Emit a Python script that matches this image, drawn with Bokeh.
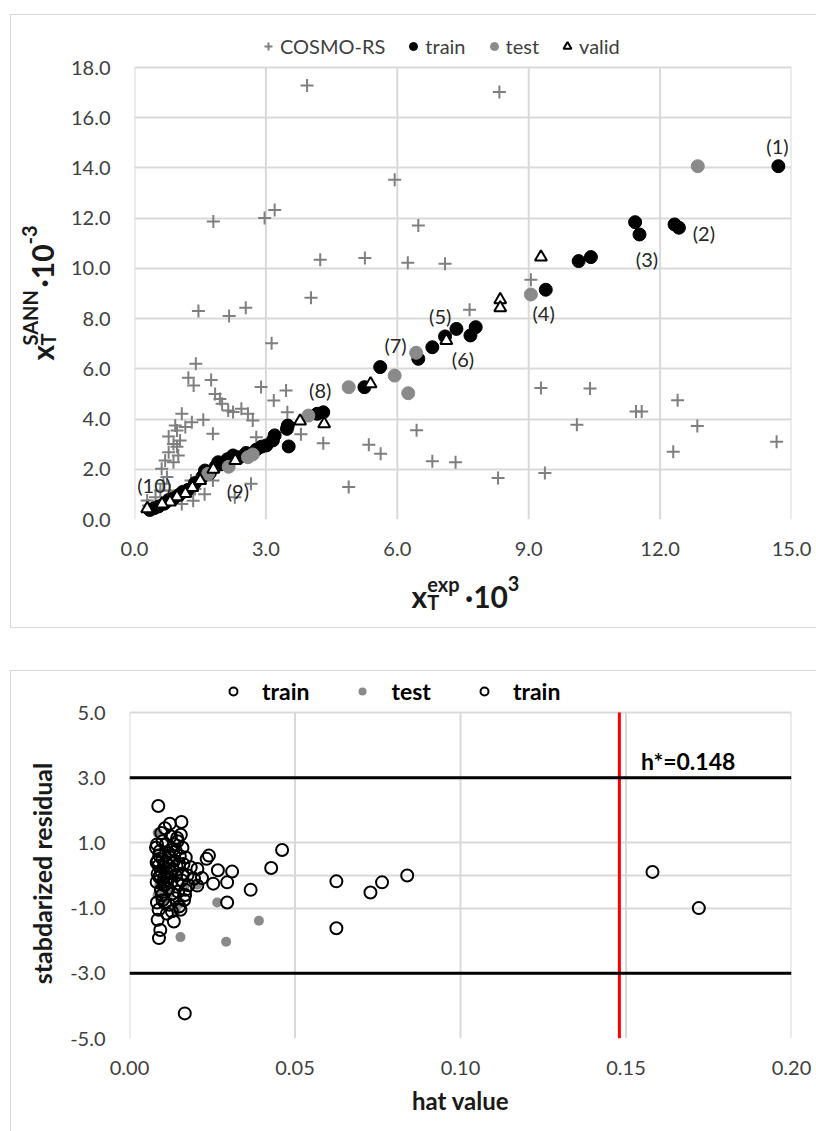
import math
from bokeh.plotting import figure
from bokeh.models import (Range1d, FixedTicker, NumeralTickFormatter, Label, Span, Spacer,
                          Legend, LegendItem)
from bokeh.layouts import column, row
from bokeh.core.properties import value
from bokeh.embed import file_html
from bokeh.resources import INLINE

# ---------------- data: top chart (x_T^exp*10^3 vs x_T^SANN*10^-3) ----------------
cosmo_x = [3.94, 8.33, 5.94, 1.80, 2.97, 3.20, 6.48, 4.24, 5.26, 6.24, 7.09, 9.05, 4.03, 1.46, 2.16, 2.54, 7.65, 3.13,
           1.40, 1.23, 1.35, 1.75, 1.84, 1.95, 2.00, 2.89, 3.46, 3.18, 3.49, 3.80, 4.31, 4.89,
           1.08, 1.31, 1.57, 0.93, 1.16, 0.78, 0.97, 1.04, 0.89, 0.78, 0.70, 0.62, 0.89, 0.97, 0.74, 0.66, 0.59,
           0.48, 0.32, 0.81, 1.00, 0.81, 1.08, 1.34, 1.60, 1.38, 1.79, 1.29, 1.00, 1.79, 2.14, 2.25, 2.44, 2.59,
           2.70, 2.78, 2.66, 2.29, 0.29,
           9.28, 10.40, 11.45, 11.58, 12.40, 12.30, 12.85, 14.66, 10.10, 9.37, 8.30, 7.33, 6.80, 6.44, 5.35, 5.62]
cosmo_y = [17.28, 17.02, 13.53, 11.87, 12.01, 12.33, 11.71, 10.34, 10.41, 10.22, 10.18, 9.55, 8.83, 8.30, 8.10, 8.43, 8.35, 7.02,
           6.20, 5.64, 5.34, 5.56, 5.00, 4.80, 4.61, 5.28, 5.14, 4.74, 4.27, 3.39, 3.04, 1.29,
           4.21, 3.87, 3.97, 3.74, 3.68, 3.31, 3.54, 3.15, 3.01, 2.68, 2.35, 2.02, 2.28, 2.90, 1.69, 1.42, 1.15,
           0.89, 0.56, 1.15, 0.96, 0.75, 0.62, 0.75, 1.01, 1.21, 1.55, 1.55, 2.55, 3.41, 4.34, 4.28, 4.41, 4.21,
           3.94, 3.28, 1.42, 0.89, 0.76,
           5.24, 5.22, 4.30, 4.30, 4.75, 2.70, 3.72, 3.10, 3.77, 1.85, 1.65, 2.28, 2.32, 3.55, 2.98, 2.62]

train_x = [14.70, 11.43, 11.53, 12.33, 12.43, 10.14, 10.42, 9.39, 7.79, 7.67, 7.35, 7.09, 6.80, 6.48, 5.61, 5.25,
           4.31, 4.17, 3.50, 3.48, 3.52, 3.20, 3.16, 3.01, 2.90, 2.78, 2.55, 2.40, 2.25, 2.12, 2.00, 1.91, 1.85,
           1.72, 1.61, 1.55, 1.38, 1.22, 1.10, 1.02, 0.90, 0.78, 0.68, 0.55, 0.45, 0.35]
train_y = [14.07, 11.84, 11.35, 11.75, 11.62, 10.29, 10.45, 9.15, 7.66, 7.33, 7.59, 7.29, 6.86, 6.40, 6.07, 5.27,
           4.27, 4.21, 3.74, 3.61, 2.91, 3.35, 3.15, 2.95, 2.90, 2.78, 2.65, 2.48, 2.55, 2.40, 2.20, 2.28, 2.10,
           1.85, 1.95, 1.70, 1.45, 1.18, 1.10, 0.98, 0.85, 0.78, 0.63, 0.52, 0.45, 0.38]

test_x = [12.86, 9.05, 6.43, 5.94, 6.25, 4.89, 3.97, 2.70, 2.59, 2.15, 1.68]
test_y = [14.07, 8.96, 6.64, 5.73, 5.03, 5.27, 4.14, 2.59, 2.48, 2.10, 1.82]

valid_x = [9.28, 8.35, 8.35, 7.12, 5.39, 3.78, 4.33, 2.30, 1.80, 1.50, 1.32, 1.16, 0.97, 0.81, 0.63, 0.29]
valid_y = [10.45, 8.75, 8.43, 7.13, 5.40, 3.92, 3.81, 2.35, 2.00, 1.55, 1.27, 1.03, 0.90, 0.70, 0.62, 0.43]

point_labels = ["(1)", "(2)", "(3)", "(4)", "(5)", "(6)", "(7)", "(8)", "(9)", "(10)"]
point_label_x = [14.68, 13.00, 11.70, 9.34, 6.98, 7.50, 5.96, 4.24, 2.36, 0.45]
point_label_y = [14.89, 11.39, 10.39, 8.24, 8.12, 6.41, 6.93, 5.14, 1.15, 1.39]

top_series = ["COSMO-RS", "train", "test", "valid"]
top_xticks = [0, 3, 6, 9, 12, 15]
top_yticks = [0, 2, 4, 6, 8, 10, 12, 14, 16, 18]

# ---------------- data: bottom chart (Williams plot) ----------------
train_h = [0.0087, 0.0122, 0.0157, 0.0144, 0.0083, 0.0461, 0.0240, 0.0233, 0.0428, 0.0205, 0.0267, 0.0310,
           0.0625, 0.0763, 0.0728, 0.0839, 0.0625, 0.0295, 0.0253, 0.0366, 0.0295, 0.0219, 0.0205, 0.0169,
           0.0154, 0.0134, 0.0085, 0.0093, 0.0089, 0.0167, 0.0083, 0.0100, 0.0113,
           0.0080, 0.0090, 0.0100, 0.0110, 0.0120, 0.0130, 0.0095, 0.0085, 0.0105, 0.0115, 0.0125, 0.0135,
           0.0140, 0.0150, 0.0160, 0.0145, 0.0130, 0.0095, 0.0082, 0.0088, 0.0110, 0.0125, 0.0155, 0.0160,
           0.0170, 0.0175, 0.0165, 0.0150, 0.0120, 0.0105, 0.0082, 0.0090, 0.0185, 0.0195, 0.0178, 0.0140,
           0.0100, 0.0118, 0.0135,
           0.0085, 0.0092, 0.0098, 0.0103, 0.0108, 0.0112, 0.0117, 0.0122, 0.0127, 0.0132, 0.0137, 0.0142,
           0.0147, 0.0152, 0.0158, 0.0163, 0.0168, 0.0088, 0.0096, 0.0107, 0.0128, 0.0145, 0.0118, 0.0093,
           0.0102]
train_r = [2.13, 1.59, 1.64, 1.15, 0.95, 0.78, 0.61, 0.51, 0.23, 0.20, 0.16, 0.12,
           -0.18, -0.21, -0.52, 0.00, -1.62, -0.21, -0.25, -0.44, -0.83, -0.08, -0.31, -0.44,
           -1.05, -1.41, -1.36, -1.67, -1.92, -4.23, -0.83, -0.76, -1.17,
           0.85, 0.62, 0.50, 0.40, 0.30, 0.20, 0.15, 0.05, -0.05, -0.15, 0.10, 0.45,
           0.75, 0.35, 0.05, -0.25, -0.55, -0.45, -0.20, 0.30, 0.95, 1.20, 1.25, 0.85,
           0.55, 0.00, -0.75, -0.95, -0.90, -0.30, 0.40, -0.05, 0.25, -0.10, -0.30, 0.00,
           1.05, 0.70, 0.95,
           0.45, 0.75, -0.60, 0.25, -0.85, 0.10, -0.40, 0.55, -0.20, 0.80, -0.70, 0.30,
           -0.50, 0.60, -0.15, 0.35, -0.60, -1.05, 1.30, 1.45, -1.10, 1.05, -0.05, 0.00,
           -0.20]

test_h = [0.0085, 0.0265, 0.0391, 0.0154, 0.0292, 0.0205, 0.0090, 0.0100, 0.0155, 0.0165, 0.0095, 0.0120,
          0.0085, 0.0140, 0.0110, 0.0150]
test_r = [1.31, -0.83, -1.39, -1.89, -2.03, -0.28, -0.30, -0.80, -0.85, -0.35, 0.20, -0.55,
          -0.60, -1.05, 0.60, 0.10]

train2_h = [0.158, 0.172]
train2_r = [0.11, -1.00]

bottom_series = ["train", "test", "train"]
h_star = 0.148
res_limit = 3.0
bot_xticks = [0.0, 0.05, 0.10, 0.15, 0.20]
bot_yticks = [-5, -3, -1, 1, 3, 5]

# ---------------- styling ----------------
FONT = "Lato"
GRID = "#d9d9d9"
TICK = "#404040"
TITLE = "#1a1a1a"
GRAYPT = "#8a8a8a"
BL = "1px solid #d9d9d9"


def base_axes(p, xt, yt, xfmt, yfmt):
    p.xaxis.ticker = FixedTicker(ticks=xt)
    p.yaxis.ticker = FixedTicker(ticks=yt)
    p.xaxis.formatter = NumeralTickFormatter(format=xfmt)
    p.yaxis.formatter = NumeralTickFormatter(format=yfmt)
    for ax in (p.xaxis[0], p.yaxis[0]):
        ax.axis_line_color = None
        ax.major_tick_line_color = None
        ax.minor_tick_line_color = None
        ax.major_label_text_font = FONT
        ax.major_label_text_font_size = "20px"
        ax.major_label_text_color = TICK
    p.xaxis.major_label_standoff = 16
    p.yaxis.major_label_standoff = 18
    p.xgrid.visible = False
    p.ygrid.ticker = FixedTicker(ticks=yt)
    p.ygrid.grid_line_color = GRID
    p.ygrid.grid_line_width = 2
    # vertical grid lines only over the plot area (the frame also holds the legend above it)
    n = len(xt)
    p.segment(x0=xt, y0=[yt[0]] * n, x1=xt, y1=[yt[-1]] * n, line_color=GRID, line_width=2,
              level="underlay")
    p.outline_line_color = None
    p.background_fill_color = "white"
    p.border_fill_color = "white"


def strip(w, h, left=0, right=0, top=0, bottom=0):
    """Figure without axes; its frame spans (w-left-right) x (h-top-bottom) px, 1 data unit = 1 px."""
    f = figure(width=w, height=h, x_range=Range1d(0, w - left - right), y_range=Range1d(0, h - top - bottom),
               x_axis_type=None, y_axis_type=None, output_backend="svg", toolbar_location=None,
               min_border=0, min_border_left=left, min_border_right=right,
               min_border_top=top, min_border_bottom=bottom)
    f.grid.visible = False
    f.outline_line_color = None
    f.background_fill_color = "white"
    f.border_fill_color = "white"
    return f


def txt(f, conv, px, py, s, size, bold=True, angle=0.0, align="left", color=TITLE):
    """(px, py) = page position of the text's anchor (horizontal per align, vertical middle)."""
    x, y = conv(px, py)
    f.text(x=[x], y=[y], text=[s], angle=angle, text_font=value(FONT),
           text_font_size=value(f"{size}px"), text_font_style=value("bold" if bold else "normal"),
           text_color=color, text_align=value(align), text_baseline=value("middle"))


A = math.pi / 2

# ================= top chart =================
# page: box border x=10, y=14..628; y-title strip x 11..67; main fig x 67..816, y 15..565
# (its frame x 129..791, y 15..519; the 0..18 plot area is y 67..519, the legend sits above it);
# x-title strip y 565..627
TOP_PX_PER_UNIT = 452 / 18
p1 = figure(width=749, height=550, x_range=Range1d(0, 15),
            y_range=Range1d(0, 18 + (67 - 15) / TOP_PX_PER_UNIT),
            output_backend="svg", toolbar_location=None,
            min_border_left=62, min_border_right=25, min_border_top=0, min_border_bottom=46)
base_axes(p1, top_xticks, top_yticks, "0.0", "0.0")

rc = p1.scatter(cosmo_x, cosmo_y, marker="cross", size=13, line_color="#7f7f7f", line_width=2)
rt = p1.scatter(train_x, train_y, marker="circle", size=13, fill_color="black", line_color="black")
rte = p1.scatter(test_x, test_y, marker="circle", size=13, fill_color=GRAYPT, line_color=GRAYPT)
rv = p1.scatter(valid_x, valid_y, marker="triangle", size=12, fill_color="white", line_color="black",
                line_width=2)

leg1 = Legend(items=[LegendItem(label=n, renderers=[r]) for n, r in zip(top_series, [rc, rt, rte, rv])],
              orientation="horizontal", location=(124, 461),
              glyph_width=20, glyph_height=24, label_standoff=2, spacing=18,
              padding=0, margin=0, border_line_color=None, background_fill_alpha=0,
              label_text_font=FONT, label_text_font_size="20px", label_text_color=TICK)
p1.add_layout(leg1)

for t, lx, ly in zip(point_labels, point_label_x, point_label_y):
    p1.add_layout(Label(x=lx, y=ly, text=t, text_align="center", text_baseline="middle",
                        text_font=FONT, text_font_size="20px", text_color="#262626"))

# x-axis title strip: x_T^exp ·10^3 (frame aligned with the plot frame: page x 129..791)
xt1 = strip(749, 62, 62, 25)


def xt_conv(px, py):
    return px - 129, 627 - py


R, my = 424, 595
txt(xt1, xt_conv, R, my, "x", 30, align="right")
txt(xt1, xt_conv, R, my + 6, "T", 20)
txt(xt1, xt_conv, R, my - 12, "exp", 20)
txt(xt1, xt_conv, R + 38, my, "\u00b710", 30)
txt(xt1, xt_conv, R + 81, my - 12, "3", 20)

# y-axis title strip (rotated): x_T^SANN ·10^-3
yt1 = strip(56, 612)


def yt_conv(px, py):
    return px - 11, 627 - py


yb, mx = 360, 41
txt(yt1, yt_conv, mx, yb, "x", 30, angle=A)
txt(yt1, yt_conv, mx + 6, yb - 15, "T", 20, angle=A)
txt(yt1, yt_conv, mx - 12, yb - 15, "SANN", 20, angle=A)
txt(yt1, yt_conv, mx, yb - 73, "\u00b710", 30, angle=A)
txt(yt1, yt_conv, mx - 12, yb - 116, "-3", 20, angle=A)

top_box = row(yt1, column(p1, xt1))
top_box.styles = {"border-left": BL, "border-top": BL, "border-bottom": BL}

# ================= bottom chart =================
# page: box border x=10, y=670; y-title strip x 11..67; fig x 67..816, y 671..1131
# (frame x 129..791, y 671..1038; the -5..5 plot area is y 712..1038, legend above it)
BOT_PX_PER_UNIT = 326 / 10
p2 = figure(width=749, height=460, x_range=Range1d(0, 0.2),
            y_range=Range1d(-5, 5 + (712 - 671) / BOT_PX_PER_UNIT),
            output_backend="svg", toolbar_location=None,
            min_border_left=62, min_border_right=25, min_border_top=0, min_border_bottom=93)
base_axes(p2, bot_xticks, bot_yticks, "0.00", "0.0")

p2.add_layout(Span(location=0, dimension="width", line_color=GRID, line_width=2, level="underlay"))

r_te = p2.scatter(test_h, test_r, marker="circle", size=10, fill_color=GRAYPT, line_color=None)
r_tr = p2.scatter(train_h, train_r, marker="circle", size=12, fill_color=None, line_color="black",
                  line_width=2)
r_tr2 = p2.scatter(train2_h, train2_r, marker="circle", size=12, fill_color=None, line_color="black",
                   line_width=2)

p2.add_layout(Span(location=res_limit, dimension="width", line_color="black", line_width=3))
p2.add_layout(Span(location=-res_limit, dimension="width", line_color="black", line_width=3))
p2.segment(x0=[h_star], y0=[bot_yticks[0]], x1=[h_star], y1=[bot_yticks[-1]],
           line_color="#ff0000", line_width=3)

p2.add_layout(Label(x=0.1545, y=3.52, text=f"h*={h_star}", text_font=FONT, text_font_size="23px",
                    text_font_style="bold", text_color="black", text_baseline="middle"))

leg2 = Legend(items=[LegendItem(label=n, renderers=[r]) for n, r in zip(bottom_series, [r_tr, r_te, r_tr2])],
              orientation="horizontal", location=(94, 333),
              glyph_width=20, glyph_height=24, label_standoff=19, spacing=43,
              padding=0, margin=0, border_line_color=None, background_fill_alpha=0,
              label_text_font=FONT, label_text_font_size="23px", label_text_font_style="bold",
              label_text_color="black")
p2.add_layout(leg2)

p2.xaxis.axis_label = "hat value"
p2.xaxis.axis_label_text_font = FONT
p2.xaxis.axis_label_text_font_style = "bold"
p2.xaxis.axis_label_text_color = TITLE
p2.xaxis.axis_label_text_font_size = "24px"
p2.xaxis.axis_label_standoff = 8

# y-axis title strip (borders aligned with the bottom figure: frame y 671..1038)
yt2 = strip(56, 460, 0, 0, 0, 93)


def yt2_conv(px, py):
    return px - 11, 1038 - py


txt(yt2, yt2_conv, 41, 873, "stabdarized residual", 25, angle=A, align="center")

bottom_box = row(yt2, p2)
bottom_box.styles = {"border-left": BL, "border-top": BL}

layout = column(Spacer(height=14),
                row(Spacer(width=10), top_box),
                Spacer(height=42),
                row(Spacer(width=10), bottom_box))
open("out.html", "w").write(file_html(layout, INLINE))
